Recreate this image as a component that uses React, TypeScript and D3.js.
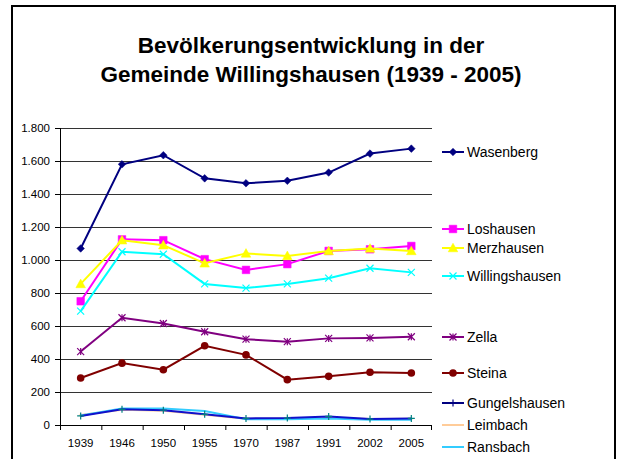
import React from 'react';
import * as d3 from 'd3';

const years = ['1939', '1946', '1950', '1955', '1970', '1987', '1991', '2002', '2005'];
const yTicks = [0, 200, 400, 600, 800, 1000, 1200, 1400, 1600, 1800];

const wasenberg = [1070, 1580, 1635, 1495, 1465, 1480, 1530, 1645, 1675];
const loshausen = [750, 1125, 1120, 1005, 940, 975, 1055, 1065, 1085];
const merzhausen = [855, 1120, 1090, 980, 1040, 1025, 1055, 1070, 1055];
const willingshausen = [690, 1050, 1035, 855, 830, 855, 890, 950, 925];
const zella = [445, 650, 615, 565, 520, 505, 525, 528, 535];
const steina = [285, 375, 335, 480, 425, 275, 295, 320, 315];
const gungelshausen = [55, 95, 90, 65, 40, 42, 52, 36, 40];
const leimbach = [60, 92, 86, 62, 38, 40, 45, 36, 38];
const ransbach = [58, 100, 100, 85, 35, 35, 40, 32, 32];

type Marker = 'diamond' | 'square' | 'triangle' | 'x' | 'star' | 'circle' | 'plus' | 'dash' | 'none';

const series: { name: string; values: number[]; color: string; mark: Marker; markColor?: string }[] = [
  { name: 'Wasenberg', values: wasenberg, color: '#000080', mark: 'diamond' },
  { name: 'Loshausen', values: loshausen, color: '#FF00FF', mark: 'square' },
  { name: 'Merzhausen', values: merzhausen, color: '#FFFF00', mark: 'triangle' },
  { name: 'Willingshausen', values: willingshausen, color: '#00FFFF', mark: 'x' },
  { name: 'Zella', values: zella, color: '#800080', mark: 'star' },
  { name: 'Steina', values: steina, color: '#800000', mark: 'circle' },
  { name: 'Leimbach', values: leimbach, color: '#FFCC99', mark: 'dash' },
  { name: 'Ransbach', values: ransbach, color: '#33CCFF', mark: 'none' },
  { name: 'Gungelshausen', values: gungelshausen, color: '#1010CC', mark: 'plus', markColor: '#008080' },
];

// legend order and vertical placement (layout)
const legendOrder = ['Wasenberg', 'Loshausen', 'Merzhausen', 'Willingshausen', 'Zella', 'Steina', 'Gungelshausen', 'Leimbach', 'Ransbach'];
const legendY = [152, 229, 248, 276, 337, 373, 403, 425, 447];

const W = 621;
const H = 459;
const plot = { left: 60, right: 432, top: 128, bottom: 425 };

function markerPath(m: Marker, s: number): string {
  switch (m) {
    case 'diamond':
      return `M0,${-s}L${s},0L0,${s}L${-s},0Z`;
    case 'square':
      return `M${-s},${-s}H${s}V${s}H${-s}Z`;
    case 'triangle':
      return `M0,${-s - 1}L${s + 1},${s}L${-s - 1},${s}Z`;
    case 'x':
      return `M${-s},${-s}L${s},${s}M${-s},${s}L${s},${-s}`;
    case 'star':
      return `M${-s},${-s}L${s},${s}M${-s},${s}L${s},${-s}M0,${-s}V${s}`;
    case 'plus':
      return `M${-s},0H${s}M0,${-s}V${s}`;
    case 'dash':
      return `M${-s / 2},0H${s / 2}`;
    default:
      return '';
  }
}

const Mark = ({ m, x, y, color }: { m: Marker; x: number; y: number; color: string }) => {
  if (m === 'none') return null;
  if (m === 'circle') return <circle cx={x} cy={y} r={3.8} fill={color} />;
  const filled = m === 'diamond' || m === 'square' || m === 'triangle';
  return (
    <path
      d={markerPath(m, filled ? 3.8 : 3.5)}
      transform={`translate(${x},${y})`}
      fill={filled ? color : 'none'}
      stroke={color}
      strokeWidth={filled ? 0.5 : 1.2}
    />
  );
};

const App = () => {
  const x = d3.scaleBand<string>().domain(years).range([plot.left, plot.right]).padding(0);
  const y = d3.scaleLinear().domain([0, 1800]).range([plot.bottom, plot.top]);
  const cx = (d: string) => (x(d) ?? 0) + x.bandwidth() / 2;
  const line = d3.line<number>().x((_, i) => cx(years[i])).y((v) => y(v));
  const fmt = (v: number) => d3.format(',')(v).replace(/,/g, '.');
  const font = 'Liberation Sans, Arial, sans-serif';

  return (
    <div>
      <style>{`body{margin:0}`}</style>
      <svg width={W} height={H} style={{ display: 'block', background: '#fff' }} fontFamily={font}>
        <rect x={12} y={6} width={603} height={470} fill="#fff" stroke="#000" strokeWidth={2} />
        <text x={311} y={53} textAnchor="middle" fontSize={22.5} fontWeight="bold">
          Bevölkerungsentwicklung in der
        </text>
        <text x={311} y={82} textAnchor="middle" fontSize={22.5} fontWeight="bold">
          Gemeinde Willingshausen (1939 - 2005)
        </text>

        {/* grid */}
        {yTicks.filter((t) => t > 0).map((t) => (
          <line key={t} x1={plot.left} x2={plot.right} y1={y(t) + 0.5} y2={y(t) + 0.5} stroke="#333" strokeWidth={1} />
        ))}

        {/* y axis */}
        <line x1={plot.left + 0.5} x2={plot.left + 0.5} y1={plot.top} y2={plot.bottom} stroke="#000" />
        {yTicks.map((t) => (
          <g key={t}>
            <line x1={plot.left - 5} x2={plot.left} y1={y(t) + 0.5} y2={y(t) + 0.5} stroke="#000" />
            <text x={plot.left - 10} y={y(t) + 4} textAnchor="end" fontSize={11.5} fill="#000">
              {fmt(t)}
            </text>
          </g>
        ))}

        {/* series */}
        {series.map((s) => (
          <g key={s.name}>
            <path d={line(s.values) ?? ''} fill="none" stroke={s.color} strokeWidth={2} />
            {s.values.map((v, i) => (
              <Mark key={i} m={s.mark} x={cx(years[i])} y={y(v)} color={s.markColor ?? s.color} />
            ))}
          </g>
        ))}

        {/* x axis */}
        <line x1={plot.left} x2={plot.right} y1={plot.bottom + 0.5} y2={plot.bottom + 0.5} stroke="#000" />
        {years.map((yr) => (
          <g key={yr}>
            <line x1={(x(yr) ?? 0) + 0.5} x2={(x(yr) ?? 0) + 0.5} y1={plot.bottom} y2={plot.bottom + 5} stroke="#000" />
            <text x={cx(yr)} y={447} textAnchor="middle" fontSize={11.5} fill="#000">
              {yr}
            </text>
          </g>
        ))}
        <line x1={plot.right - 0.5} x2={plot.right - 0.5} y1={plot.bottom} y2={plot.bottom + 5} stroke="#000" />

        {/* legend */}
        {legendOrder.map((name, i) => {
          const s = series.find((d) => d.name === name)!;
          const ly = legendY[i];
          const legendColor = name === 'Gungelshausen' ? '#000080' : s.color;
          return (
            <g key={name}>
              <line x1={442} x2={464} y1={ly} y2={ly} stroke={legendColor} strokeWidth={2} />
              <Mark m={s.mark} x={453} y={ly} color={legendColor} />
              <text x={467} y={ly + 5} fontSize={14} fill="#000">
                {name}
              </text>
            </g>
          );
        })}
      </svg>
    </div>
  );
};

export default App;
